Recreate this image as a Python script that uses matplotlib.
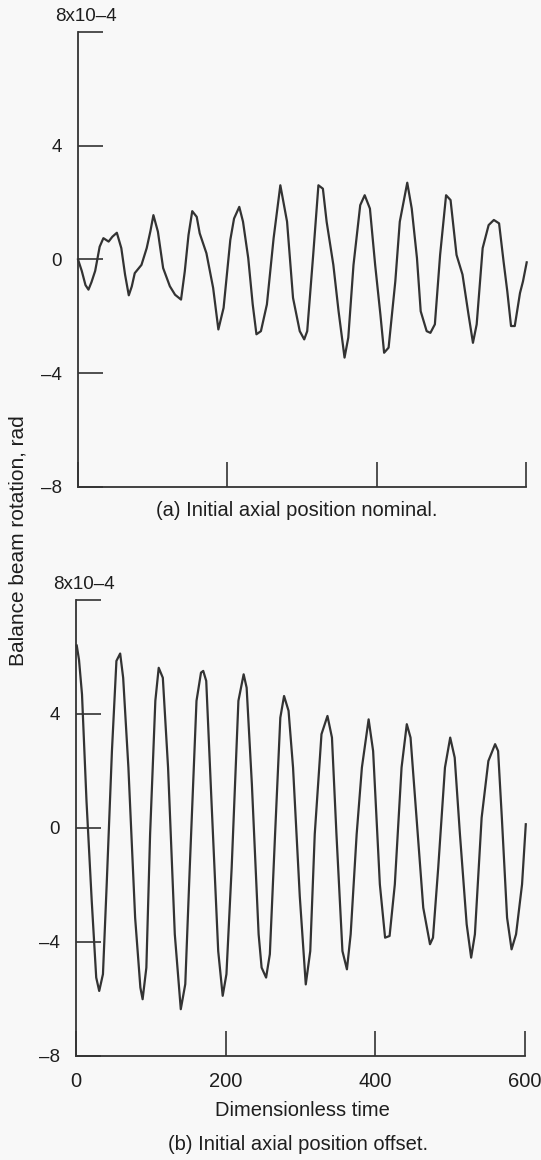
import matplotlib
matplotlib.use("Agg")
import matplotlib.pyplot as plt

plt.rcParams['font.family'] = ['Liberation Sans', 'DejaVu Sans']

# (a) initial axial position nominal
t_a = [0, 5, 10, 14, 18, 23, 29, 34, 41, 46, 52, 58, 63, 68, 72, 76, 85, 92, 97,
       101, 107, 114, 123, 130, 138, 143, 148, 153, 159, 163, 172, 181, 188, 195,
       204, 209, 216, 221, 228, 234, 239, 245, 253, 262, 271, 280, 288, 297, 303,
       307, 315, 322, 328, 333, 342, 349, 357, 362, 369, 378, 384, 391, 398, 405,
       410, 416, 425, 431, 441, 447, 454, 459, 467, 472, 478, 485, 493, 499, 507,
       515, 523, 529, 534, 542, 550, 557, 564, 570, 575, 580, 585, 592, 596, 601]
y_a = [0.0, -0.4, -0.9, -1.06, -0.8, -0.4, 0.45, 0.75, 0.63, 0.8, 0.94, 0.4,
       -0.53, -1.26, -0.95, -0.48, -0.19, 0.4, 1.0, 1.56, 0.98, -0.3, -0.94,
       -1.24, -1.41, -0.42, 0.86, 1.7, 1.5, 0.92, 0.22, -1.0, -2.46, -1.7, 0.69,
       1.44, 1.85, 1.33, 0.05, -1.58, -2.63, -2.52, -1.58, 0.75, 2.61, 1.33,
       -1.35, -2.52, -2.81, -2.52, 0.16, 2.61, 2.49, 1.33, -0.19, -1.82, -3.45,
       -2.75, -0.19, 1.91, 2.26, 1.79, -0.19, -1.93, -3.28, -3.1, -0.77, 1.33,
       2.7, 1.79, 0.05, -1.82, -2.52, -2.58, -2.28, 0.16, 2.26, 2.09, 0.16,
       -0.53, -1.93, -2.93, -2.28, 0.4, 1.21, 1.39, 1.27, -0.07, -1.12, -2.34,
       -2.34, -1.18, -0.77, -0.1]

# (b) initial axial position offset
t_b = [1, 4, 8, 14, 21, 27, 31, 36, 41, 48, 54, 59, 63, 70, 79, 86, 89, 94, 99,
       106, 110.5, 116, 123, 132, 140, 146, 152, 161, 167, 170, 174, 181, 190,
       196, 201, 208, 217, 224, 228, 235, 244, 248, 254, 259, 266, 273, 278, 284,
       290, 299, 307, 313, 319, 328, 336, 342, 348, 356, 362, 367, 375, 382, 391,
       397, 406, 413, 419, 426, 435, 442, 447, 455, 464, 473, 477, 484, 493, 500,
       506, 513, 522, 528, 533, 542, 551, 560, 564, 569, 576, 582, 588, 596, 601]
y_b = [6.4, 5.9, 4.69, 0.95, -2.56, -5.25, -5.72, -5.13, -1.98, 2.7, 5.86, 6.12,
       5.27, 2.12, -3.15, -5.6, -6.01, -4.9, -0.22, 4.46, 5.62, 5.27, 2.12,
       -3.73, -6.36, -5.48, -1.39, 4.46, 5.45, 5.51, 5.16, 0.95, -4.32, -5.89,
       -5.13, -1.39, 4.46, 5.39, 4.92, 1.53, -3.73, -4.9, -5.25, -4.43, -0.22,
       3.87, 4.63, 4.11, 2.12, -2.4, -5.49, -4.32, -0.22, 3.29, 3.93, 3.17,
       -0.22, -4.32, -4.96, -3.73, -0.22, 2.12, 3.81, 2.7, -1.98, -3.85, -3.79,
       -1.98, 2.12, 3.64, 3.17, 0.36, -2.8, -4.08, -3.85, -1.39, 2.12, 3.17,
       2.47, -0.22, -3.38, -4.55, -3.73, 0.36, 2.35, 2.94, 2.7, 0.36, -3.15,
       -4.26, -3.73, -1.98, 0.13]

xticks = [0, 200, 400, 600]
xticklabels = ['0', '200', '400', '600']
yticks = [-8, -4, 0, 4, 8]
yticklabels = ['\u20138', '\u20134', '0', '4', '']

ink = '#333333'
txt = '#1e1e1e'
fig = plt.figure(figsize=(5.41, 11.6), dpi=100, facecolor='#f8f8f8')
ax1 = fig.add_axes([0.1442, 0.5802, 0.828, 0.3922])
ax2 = fig.add_axes([0.1405, 0.0897, 0.830, 0.3931])

for ax, t, y in [(ax1, t_a, y_a), (ax2, t_b, y_b)]:
    ax.set_facecolor('none')
    ax.plot(t, y, color=ink, lw=1.6, clip_on=False, solid_joinstyle='round')
    ax.set_xlim(0, 600)
    ax.set_ylim(-8, 8)
    for s in ['top', 'right']:
        ax.spines[s].set_visible(False)
    for s in ['left', 'bottom']:
        ax.spines[s].set_color(ink)
        ax.spines[s].set_linewidth(1.3)
    ax.set_xticks(xticks)
    ax.set_yticks(yticks)
    ax.set_yticklabels(yticklabels)
    ax.tick_params(direction='in', length=18, width=1.2, color=ink,
                   labelcolor=txt, pad=11.5)
    ax.tick_params(axis='y', labelsize=13.5)
    ax.tick_params(axis='x', labelsize=14.5)
    ax.annotate('8x10\u20134', xy=(0, 8), xytext=(6, 11),
                textcoords='offset points', ha='center', va='center',
                fontsize=13.5, color=txt)

ax1.set_xticklabels([])
ax2.set_xticklabels(xticklabels)

fig.text(297 / 541, 1 - 510 / 1160, '(a) Initial axial position nominal.',
         ha='center', va='center', fontsize=14.5, color=txt)
fig.text(302 / 541, 1 - 1111 / 1160, 'Dimensionless time',
         ha='center', va='center', fontsize=14.5, color=txt)
fig.text(298 / 541, 1 - 1145 / 1160, '(b) Initial axial position offset.',
         ha='center', va='center', fontsize=14.5, color=txt)
fig.text(18 / 541, 1 - 541 / 1160, 'Balance beam rotation, rad',
         ha='center', va='center', rotation=90, fontsize=15, color=txt)

fig.savefig('out.png', dpi=100, facecolor=fig.get_facecolor())
